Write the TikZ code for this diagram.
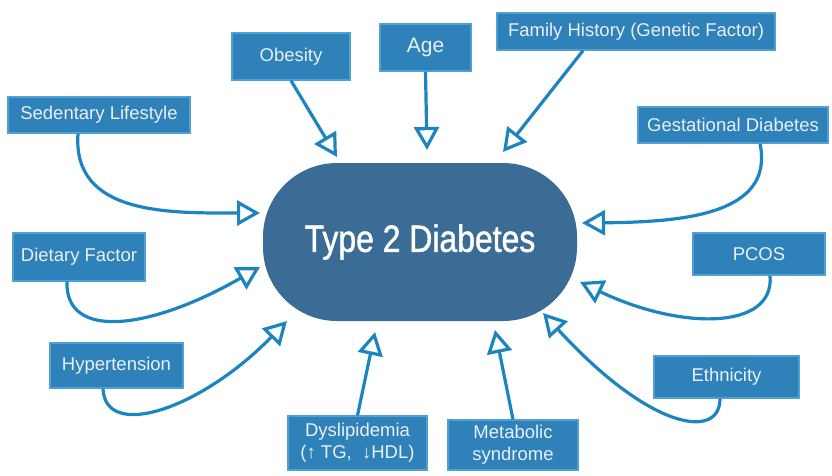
\documentclass[tikz,border=0pt]{standalone}
\usepackage{fontspec}
\setmainfont{Liberation Sans}
\newfontfamily\narrowf[FakeStretch=0.84,FakeBold=1.2]{Liberation Sans}
\usetikzlibrary{arrows.meta,calc}
\definecolor{boxblue}{RGB}{47,129,186}
\definecolor{boxedge}{RGB}{80,160,212}
\definecolor{arrowblue}{RGB}{28,133,192}
\definecolor{coreblue}{RGB}{58,108,150}
\definecolor{boxtext}{RGB}{234,239,245}
\begin{document}
\begin{tikzpicture}[x=1pt,y=-1pt,
  factor/.style={draw=boxedge, line width=1.2pt, fill=boxblue, text=boxtext,
    font=\fontsize{18.5}{22}\selectfont, inner sep=0pt, align=center},
  core/.style={fill=coreblue, rounded corners=74pt, minimum width=314pt,
    minimum height=158pt, text=white, inner sep=0pt,
    font=\narrowf\fontsize{38}{40}\selectfont},
  link/.style={draw=arrowblue, line width=3.2pt,
    -{Triangle[open, length=23pt, width=25pt]}}]
\useasboundingbox (0,0) rectangle (832,475);

\node[core] (t2d) at (420,242) {Type 2 Diabetes};

\node[factor, minimum width=118pt, minimum height=47pt] (ob) at (291,56.5) {Obesity};
\node[factor, minimum width=91pt, minimum height=47pt, font=\fontsize{21}{24}\selectfont] (age) at (425.5,47.5) {Age};
\node[factor, minimum width=278pt, minimum height=37pt] (fam) at (636,31.5) {Family History (Genetic Factor)};
\node[factor, minimum width=190pt, minimum height=36pt] (ges) at (733,125) {Gestational Diabetes};
\node[factor, minimum width=182pt, minimum height=36pt] (sed) at (99,115) {Sedentary Lifestyle};
\node[factor, minimum width=132pt, minimum height=48pt] (die) at (79,257) {Dietary Factor};
\node[factor, minimum width=133pt, minimum height=45pt] (hyp) at (116.5,365.5) {Hypertension};
\node[factor, minimum width=132pt, minimum height=42pt] (pcos) at (759,254) {PCOS};
\node[factor, minimum width=145pt, minimum height=42pt] (eth) at (726.5,377) {Ethnicity};
\node[factor, minimum width=139pt, minimum height=54pt] (dys) at (357.5,443) {Dyslipidemia\\(↑ TG, \ ↓HDL)};
\node[factor, minimum width=130pt, minimum height=50pt] (met) at (513,445) {Metabolic\\syndrome};

\coordinate (tsed) at (260,213);
\coordinate (tdie) at (260,267);
\coordinate (thyp) at (287,321);
\coordinate (tob) at (337,157);
\coordinate (tage) at (427,150);
\coordinate (tfam) at (503,152);
\coordinate (tges) at (582,223);
\coordinate (tpcos) at (580,282);
\coordinate (teth) at (543,313);
\coordinate (tdys) at (375,332);
\coordinate (tmet) at (495,330);

\draw[link] ($(sed.south)+(-21,0)$) .. controls +(-6,82) and (170,213) .. (tsed);
\draw[link] ($(die.south)+(-12,0)$) .. controls +(-2,59) and (150,330) .. (tdie);
\draw[link] ($(hyp.south)+(-13.5,0)$) .. controls +(2,52) and (200,410) .. (thyp);
\draw[link] (ob.south) -- (tob);
\draw[link] (age.south) -- (tage);
\draw[link] ($(fam.south)+(-53,0)$) -- (tfam);
\draw[link] ($(ges.south)+(27,0)$) .. controls +(15,72) and (680,222) .. (tges);
\draw[link] ($(pcos.south)+(11,0)$) .. controls +(5,55) and (680,330) .. (tpcos);
\draw[link] ($(eth.south)+(-6.5,0)$) .. controls +(0,42) and (650,430) .. (teth);
\draw[link] (dys.north) -- (tdys);
\draw[link] (met.north) -- (tmet);
\end{tikzpicture}
\end{document}
